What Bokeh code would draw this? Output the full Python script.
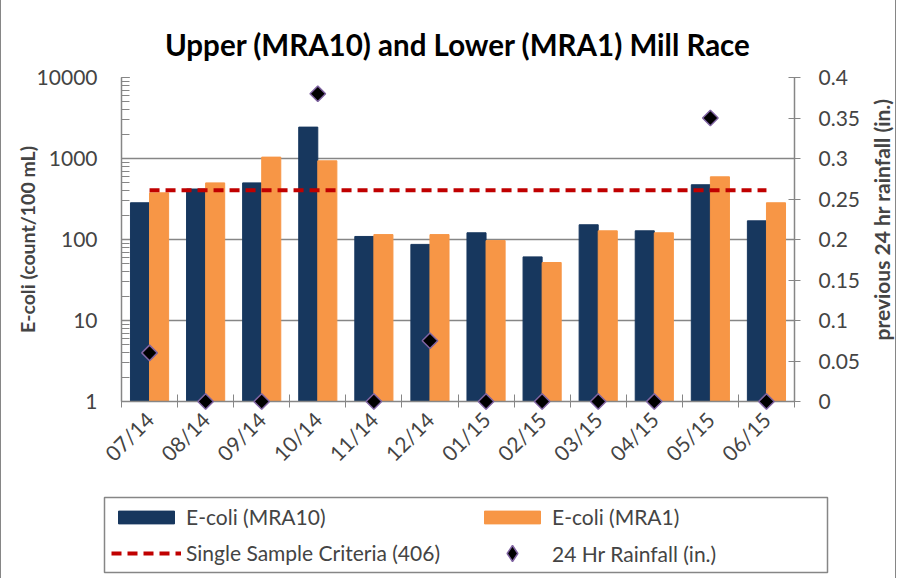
import math
from bokeh.plotting import figure
from bokeh.layouts import column, row
from bokeh.models import (Range1d, LinearAxis, LinearScale, FixedTicker, LogTicker, NumeralTickFormatter,
                          CustomJSTickFormatter, Legend, LegendItem, ColumnDataSource)
from bokeh.embed import file_html
from bokeh.resources import INLINE

months = ["07/14", "08/14", "09/14", "10/14", "11/14", "12/14",
          "01/15", "02/15", "03/15", "04/15", "05/15", "06/15"]
ecoli_mra10 = [284, 420, 500, 2440, 109, 87, 121, 61, 152, 128, 474, 170]
ecoli_mra1 = [377, 500, 1040, 936, 115, 115, 97, 52, 128, 121, 594, 284]
criteria = [406] * 12
rainfall = [0.06, 0.0, 0.0, 0.38, 0.0, 0.075, 0.0, 0.0, 0.0, 0.0, 0.35, 0.0]

FONT = "Lato"
GRAY = "#868686"
NAVY = "#17375E"
ORANGE = "#F79646"
RED = "#C00000"
PURPLE = "#8064A2"
W = 894
W_TITLE = 30
H = 488

n = len(months)
centers = [i + 0.5 for i in range(n)]
bw = 0.34
src = ColumnDataSource(dict(
    xc=centers,
    x10=[c - bw / 2 for c in centers],
    x1=[c + bw / 2 for c in centers],
    mra10=ecoli_mra10, mra1=ecoli_mra1, crit=criteria, rain=rainfall,
))

bar10 = dict(fill_color=NAVY, line_color=NAVY)
bar1 = dict(fill_color=ORANGE, line_color=ORANGE)
crit_style = dict(line_color=RED, line_width=4, line_dash="10 6")

pw = W - W_TITLE
p = figure(width=pw, height=H, output_backend="svg", toolbar_location=None,
           y_axis_type="log", x_range=Range1d(0, n), y_range=Range1d(1, 10000),
           min_border_left=120, min_border_right=pw - 793, min_border_top=77, min_border_bottom=H - 401)
p.frame_align = False
p.extra_y_ranges = {"rain": Range1d(0, 0.4)}
p.extra_y_scales = {"rain": LinearScale()}

p.title.text = "Upper (MRA10) and Lower (MRA1) Mill Race"
p.title.align = "center"
p.title.text_font = FONT
p.title.text_font_size = "29.5px"
p.title.text_font_style = "bold"
p.title.text_color = "black"
p.title.standoff = 31

p.outline_line_color = None
p.xgrid.grid_line_color = None
p.ygrid.grid_line_color = GRAY
p.ygrid.grid_line_width = 1.5
p.ygrid.ticker = FixedTicker(ticks=[1, 10, 100, 1000, 10000])

p.vbar(x="x10", top="mra10", bottom=1, width=bw, source=src, **bar10)
p.vbar(x="x1", top="mra1", bottom=1, width=bw, source=src, **bar1)
p.line(x="xc", y="crit", source=src, **crit_style)
p.scatter(x="xc", y="rain", source=src, y_range_name="rain", level="overlay",
          marker="square", angle=math.pi / 4, size=11, fill_color="black",
          line_color=PURPLE, line_width=1.5)

# left axis
ya = p.yaxis[0]
ya.ticker = LogTicker(num_minor_ticks=10)
ya.formatter = NumeralTickFormatter(format="0")
ya.axis_label = "E-coli (count/100 mL)"
ya.axis_label_text_font = FONT
ya.axis_label_text_font_size = "19.5px"
ya.axis_label_text_font_style = "bold"
ya.axis_label_standoff = -5
ya.major_label_text_font = FONT
ya.major_label_text_font_size = "21px"
ya.major_label_standoff = 24
ya.axis_line_color = GRAY
ya.axis_line_width = 1.5
ya.major_tick_line_color = GRAY
ya.minor_tick_line_color = GRAY
ya.major_tick_in = 8
ya.major_tick_out = 0
ya.minor_tick_in = 8
ya.minor_tick_out = 0

# right axis (rainfall ticks)
ra = LinearAxis(y_range_name="rain", ticker=FixedTicker(ticks=[0, 0.05, 0.1, 0.15, 0.2, 0.25, 0.3, 0.35, 0.4]),
                formatter=NumeralTickFormatter(format="0.[00]"))
ra.major_label_text_font = FONT
ra.major_label_text_font_size = "21px"
ra.major_label_standoff = 18
ra.axis_line_color = GRAY
ra.axis_line_width = 1.5
ra.major_tick_line_color = GRAY
ra.major_tick_in = 6
ra.major_tick_out = 6
ra.minor_tick_line_color = None
p.add_layout(ra, "right")

# bottom axis
xa = p.xaxis[0]
xa.ticker = FixedTicker(ticks=centers, minor_ticks=list(range(n + 1)))
xa.formatter = CustomJSTickFormatter(args=dict(labels=months),
                                     code="return labels[Math.floor(tick)] || '';")
xa.major_label_orientation = math.pi / 4
xa.major_label_text_font = FONT
xa.major_label_text_font_size = "21px"
xa.major_label_standoff = 8
xa.major_tick_line_color = None
xa.minor_tick_line_color = GRAY
xa.minor_tick_in = 7
xa.minor_tick_out = 6
xa.axis_line_color = GRAY
xa.axis_line_width = 1.5

# narrow strip holding the secondary axis title (reads bottom-to-top)
p3 = figure(width=W_TITLE, height=H, output_backend="svg", toolbar_location=None,
            x_range=Range1d(0, 0.4), y_range=Range1d(0, 0.4), x_axis_type=None,
            min_border_left=W_TITLE - 3, min_border_right=0, min_border_top=37, min_border_bottom=H - 401)
p3.frame_align = False
p3.outline_line_color = None
p3.xgrid.visible = False
p3.ygrid.visible = False
ta = p3.yaxis[0]
ta.ticker = FixedTicker(ticks=[])
ta.axis_line_color = None
ta.major_tick_line_color = None
ta.minor_tick_line_color = None
ta.major_tick_in = 0
ta.major_tick_out = 0
ta.minor_tick_in = 0
ta.minor_tick_out = 0
ta.major_label_standoff = 0
ta.axis_label = "previous 24 hr rainfall (in.)"
ta.axis_label_text_font = FONT
ta.axis_label_text_font_size = "21px"
ta.axis_label_text_font_style = "bold"
ta.axis_label_standoff = 0

# legend panel: the frame is the legend box; series renderers are hidden, only legend glyphs show
p2 = figure(width=W, height=90, output_backend="svg", toolbar_location=None,
            x_range=Range1d(0, n), y_range=Range1d(-2, -1), x_axis_type=None, y_axis_type=None,
            min_border_left=103, min_border_right=W - 826, min_border_top=9, min_border_bottom=6)
p2.frame_align = False
p2.outline_line_color = GRAY
p2.outline_line_width = 1.5
p2.xgrid.visible = False
p2.ygrid.visible = False
l10 = p2.vbar(x="x10", top="mra10", bottom=1, width=bw, source=src, visible=False, **bar10)
l1 = p2.vbar(x="x1", top="mra1", bottom=1, width=bw, source=src, visible=False, **bar1)
lc = p2.line(x="xc", y="crit", source=src, visible=False, **crit_style)
lr = p2.scatter(x="xc", y="crit", source=src, visible=False, marker="diamond",
                fill_color="black", line_color=PURPLE, line_width=1.5)


def add_legend(label, renderer, loc, gh):
    lg = Legend(items=[LegendItem(label=label, renderers=[renderer])], location=loc)
    lg.label_text_font = FONT
    lg.label_text_font_size = "21px"
    lg.glyph_width = 70
    lg.glyph_height = gh
    lg.label_height = 24
    lg.label_standoff = 5
    lg.padding = 0
    lg.margin = 0
    lg.border_line_color = None
    lg.background_fill_alpha = 0
    lg.inactive_fill_alpha = 0
    p2.add_layout(lg)


add_legend("E-coli (MRA10)", l10, (7, 43), 16)
add_legend("E-coli (MRA1)", l1, (373, 43), 16)
add_legend("Single Sample Criteria (406)", lc, (7, 7), 16)
add_legend("24 Hr Rainfall (in.)", lr, (373, -1), 40)

layout = column(row(p, p3, spacing=0), p2, spacing=0,
                styles={"border-left": "1px solid " + GRAY, "border-right": "1px solid " + GRAY})

open("out.html", "w").write(file_html(layout, INLINE))
